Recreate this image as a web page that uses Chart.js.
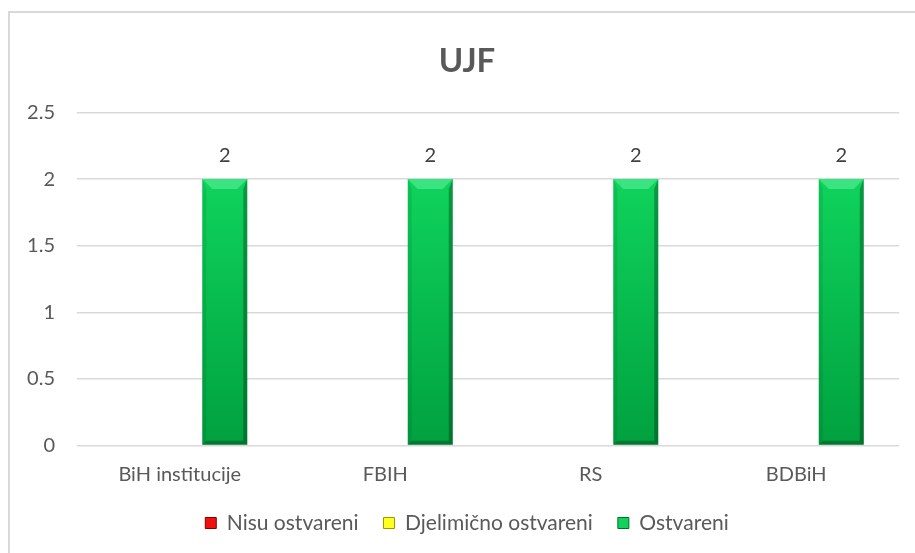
<!DOCTYPE html>
<html>
<head>
<meta charset="utf-8">
<script src="https://cdn.jsdelivr.net/npm/chart.js@4.4.0/dist/chart.umd.min.js"></script>
<style>
  html, body { margin: 0; padding: 0; background: #fff; overflow: hidden; }
  #wrap { position: relative; width: 915px; height: 553px; }
</style>
</head>
<body>
<div id="wrap"><canvas id="ujfChart"></canvas></div>
<script>
const categories = ['BiH institucije', 'FBIH', 'RS', 'BDBiH'];
const nisuOstvareni = [0, 0, 0, 0];
const djelimicnoOstvareni = [0, 0, 0, 0];
const ostvareni = [2, 2, 2, 2];
const seriesNames = ['Nisu ostvareni', 'Djelimično ostvareni', 'Ostvareni'];
const yMax = 2.5;
const yStep = 0.5;

const FONT = "Lato, 'Open Sans', sans-serif";
const TEXT = '#595959';

// colours for the bevelled Excel-style bars
const palettes = [
  { top: '#f01010', bottom: '#b00000', bevel: '#ff5050', edge: '#800000' },
  { top: '#ffff20', bottom: '#d8d800', bevel: '#ffff80', edge: '#9a9a00' },
  { top: '#0fd35c', bottom: '#00a13f', bevel: '#3ae480', edge: '#006f2a' }
];

function barFill(pal) {
  return ctx => {
    const chart = ctx.chart;
    if (ctx.type !== 'data' || !chart.chartArea || !chart.scales.y) return pal.top;
    const y = chart.scales.y;
    const top = y.getPixelForValue(ctx.raw);
    const base = y.getPixelForValue(0);
    if (!isFinite(top) || top === base) return pal.top;
    const g = chart.ctx.createLinearGradient(0, top, 0, base);
    g.addColorStop(0, pal.top);
    g.addColorStop(1, pal.bottom);
    return g;
  };
}

const frame = {
  id: 'frame',
  beforeDraw(chart) {
    const c = chart.ctx;
    c.save();
    c.fillStyle = '#fff';
    c.fillRect(0, 0, chart.width, chart.height);
    c.strokeStyle = '#d9d9d9';
    c.lineWidth = 2;
    c.strokeRect(9, 12, 1000, 1000);
    c.restore();
  }
};

const bevel = {
  id: 'bevel',
  afterDatasetsDraw(chart) {
    const c = chart.ctx;
    chart.data.datasets.forEach((ds, di) => {
      const pal = palettes[di];
      chart.getDatasetMeta(di).data.forEach((bar, i) => {
        if (!ds.data[i]) return;
        const l = bar.x - bar.width / 2, r = bar.x + bar.width / 2;
        const t = bar.y, b = bar.base;
        const d = 10, s = 4;
        c.save();
        // top bevel
        c.fillStyle = pal.bevel;
        c.beginPath();
        c.moveTo(l, t); c.lineTo(r, t); c.lineTo(r - d, t + d); c.lineTo(l + d, t + d);
        c.closePath(); c.fill();
        // left side
        c.fillStyle = 'rgba(0,0,0,0.08)';
        c.beginPath();
        c.moveTo(l, t); c.lineTo(l + s, t + d); c.lineTo(l + s, b - s); c.lineTo(l, b);
        c.closePath(); c.fill();
        // right side
        c.fillStyle = 'rgba(0,0,0,0.28)';
        c.beginPath();
        c.moveTo(r, t); c.lineTo(r - s, t + d); c.lineTo(r - s, b - s); c.lineTo(r, b);
        c.closePath(); c.fill();
        // bottom
        c.fillStyle = 'rgba(0,0,0,0.25)';
        c.beginPath();
        c.moveTo(l, b); c.lineTo(l + s, b - s); c.lineTo(r - s, b - s); c.lineTo(r, b);
        c.closePath(); c.fill();
        c.restore();
      });
    });
  }
};

const valueLabels = {
  id: 'valueLabels',
  afterDatasetsDraw(chart) {
    const c = chart.ctx;
    const meta = chart.getDatasetMeta(2);
    c.save();
    c.font = '20px ' + FONT;
    c.fillStyle = '#404040';
    c.textAlign = 'center';
    c.textBaseline = 'middle';
    meta.data.forEach((bar, i) => {
      c.fillText(String(ostvareni[i]), bar.x, bar.y - 24);
    });
    c.restore();
  }
};

const seriesData = [nisuOstvareni, djelimicnoOstvareni, ostvareni];

new Chart(document.getElementById('ujfChart'), {
  type: 'bar',
  data: {
    labels: categories,
    datasets: seriesData.map((d, i) => ({
      label: seriesNames[i],
      data: d,
      backgroundColor: barFill(palettes[i]),
      borderWidth: 0,
      categoryPercentage: 0.657,
      barPercentage: 1.0
    }))
  },
  options: {
    responsive: true,
    maintainAspectRatio: false,
    animation: false,
    layout: { padding: { left: 19, right: 0, top: 0, bottom: 9.5 } },
    scales: {
      x: {
        grid: { display: false, drawTicks: false },
        border: { display: false },
        ticks: { color: TEXT, font: { family: FONT, size: 20 }, padding: 17 },
        afterFit(scale) { scale.height = 42; }
      },
      y: {
        min: 0,
        max: yMax,
        ticks: {
          stepSize: yStep, color: TEXT, font: { family: FONT, size: 20 }, padding: 22,
          callback: v => String(v)
        },
        grid: { color: '#d9d9d9', lineWidth: 1.5, drawTicks: false },
        border: { display: false },
        afterFit(scale) { scale.width = 58; }
      },
      // empty spacer on the right so the plot stops where the reference does
      spacer: {
        type: 'linear',
        position: 'right',
        ticks: { display: false },
        grid: { display: false, drawTicks: false },
        border: { display: false },
        afterFit(scale) { scale.width = 16; }
      }
    },
    plugins: {
      title: {
        display: true,
        text: 'UJF',
        color: TEXT,
        font: { family: FONT, size: 33, weight: 'bold' },
        padding: { top: 42, bottom: 30.9 }
      },
      legend: {
        position: 'bottom',
        labels: {
          color: TEXT,
          font: { family: FONT, size: 21 },
          boxWidth: 11,
          boxHeight: 11,
          padding: 25,
          generateLabels(chart) {
            return chart.data.datasets.map((ds, i) => ({
              text: ds.label,
              fillStyle: palettes[i].top,
              strokeStyle: palettes[i].edge,
              lineWidth: 1,
              fontColor: TEXT,
              datasetIndex: i
            }));
          }
        }
      },
      tooltip: { enabled: false }
    }
  },
  plugins: [frame, bevel, valueLabels]
});
</script>
</body>
</html>
